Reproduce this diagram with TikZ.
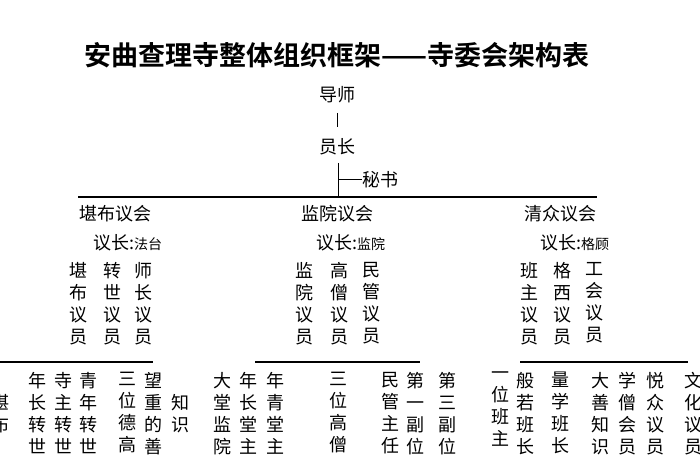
\documentclass[tikz,border=0pt]{standalone}
\usepackage{fontspec}
\newfontfamily\cjk{Noto Sans CJK SC}
\newfontfamily\cjkb{Noto Sans CJK SC Bold}
\begin{document}
\begin{tikzpicture}[x=1pt,y=-1pt,
  txt/.style={font=\cjk\fontsize{18}{18}\selectfont,inner sep=0pt},
  col/.style={font=\cjk\fontsize{18}{22}\selectfont,align=center,anchor=north,inner sep=0pt},
  thin/.style={line width=1pt},
  bar/.style={line width=2pt}]
\useasboundingbox (0,0) rectangle (700,470);
\clip (0,0) rectangle (700,470);
\node[font=\cjkb\fontsize{27}{27}\selectfont,inner sep=0pt] (title) at (337,55) {安曲查理寺整体组织框架——寺委会架构表};
\node[txt] (ds) at (337,95) {导师};
\node[txt] (yz) at (337,147) {员长};
\node[txt] (ms) at (380,180) {秘书};
\coordinate (d1) at (337,113); \coordinate (d2) at (337,127);
\draw[thin] (d1) -- (d2);
\coordinate (v1) at (338,163); \coordinate (v2) at (338,197);
\draw[thin] (v1) -- (v2);
\coordinate (mj) at (338,180);
\draw[thin] (mj) -- (ms.west);
\coordinate (hl) at (78,197); \coordinate (hr) at (597,197);
\draw[bar] (hl) -- (hr);
% councils
\node[txt] (c1) at (115,214) {堪布议会};
\node[txt] (c2) at (337,214) {监院议会};
\node[txt] (c3) at (560,214) {清众议会};
\node[txt,anchor=west] (p1) at (93,243) {议长:{\fontsize{14}{14}\selectfont 法台}};
\node[txt,anchor=west] (p2) at (316,243) {议长:{\fontsize{14}{14}\selectfont 监院}};
\node[txt,anchor=west] (p3) at (540,243) {议长:{\fontsize{14}{14}\selectfont 格顾}};
% members
\foreach \x/\t [count=\i] in {78/堪\\布\\议\\员,112/转\\世\\议\\员,143/师\\长\\议\\员,
  304/监\\院\\议\\员,339/高\\僧\\议\\员,371/民\\管\\议\\员,
  529/班\\主\\议\\员,562/格\\西\\议\\员,594/工\\会\\议\\员}
  \node[col] (m\i) at (\x,262) {\t};
% bottom bars
\coordinate (b1l) at (0,362); \coordinate (b1r) at (153,362);
\coordinate (b2l) at (255,362); \coordinate (b2r) at (420,362);
\coordinate (b3l) at (520,362); \coordinate (b3r) at (688,362);
\draw[bar] (b1l) -- (b1r);
\draw[bar] (b2l) -- (b2r);
\draw[bar] (b3l) -- (b3r);
% bottom columns
\foreach \x/\y/\t [count=\i] in {
  0/394/堪\\布,37/372/年\\长\\转\\世,63/372/寺\\主\\转\\世,88/372/青\\年\\转\\世,
  127/372/三\\位\\德\\高,153/372/望\\重\\的\\善,180/394/知\\识,
  222/372/大\\堂\\监\\院,248/372/年\\长\\堂\\主,275/372/年\\青\\堂\\主,
  338/372/三\\位\\高\\僧,390/372/民\\管\\主\\任,415/372/第\\一\\副\\位,447/372/第\\三\\副\\位,
  500/372/一\\位\\班\\主,525/372/般\\若\\班\\长,560/372/量\\学\\班\\长,
  600/372/大\\善\\知\\识,627/372/学\\僧\\会\\员,655/372/悦\\众\\议\\员,693/372/文\\化\\议\\员}
  \node[col] (n\i) at (\x,\y) {\t};
\end{tikzpicture}
\end{document}
